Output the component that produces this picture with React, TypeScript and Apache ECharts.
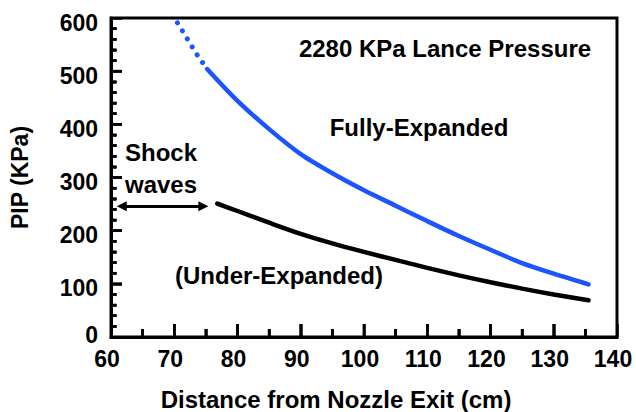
import React, { useEffect, useRef } from "react";
import * as echarts from "echarts";

// Fully-expanded PIP (blue): extrapolated dotted part, then measured solid part
const fullyDotted: [number, number][] = [
  [70.5, 591], [72.0, 562], [73.55, 532], [75.2, 504],
];
const fullyExpanded: [number, number][] = [
  [75.2, 504], [80, 444], [85, 391], [90, 344], [95, 308], [100, 276],
  [105, 247], [110, 218], [115, 190], [120, 164], [125, 139], [130, 119], [135.5, 99],
];
// Under-expanded PIP (black)
const underExpanded: [number, number][] = [
  [76.8, 251], [80, 237], [85, 215], [90, 194], [95, 176], [100, 160],
  [105, 145], [110, 130], [115, 116], [120, 103], [125, 91], [130, 80], [135.5, 69],
];
// Shock-wave region arrow (x range, y level)
const shockRange = [61.7, 74.6];
const shockLevel = 246;

const xTicks = { min: 60, max: 140, interval: 10 };
const yTicks = { min: 0, max: 600, interval: 100 };
// tick marks drawn inside the frame (major + minor)
const xTickValues = [65, 70, 75, 80, 85, 90, 95, 100, 105, 110, 115, 120, 125, 130, 135];
const yTickValues = [
  20, 40, 60, 80, 100, 120, 140, 160, 180, 200, 220, 240, 260, 280, 300,
  320, 340, 360, 380, 400, 420, 440, 460, 480, 500, 520, 540, 560, 580,
];

const FONT = "'Liberation Sans', Arial, Helvetica, sans-serif";
const BLUE = "#1c54ff";
const xTickLen = (v: number) => (v % xTicks.interval === 0 ? 13 : 8);
const yTickLen = (v: number) => (v % yTicks.interval === 0 ? 11 : 5.5);

export default function App() {
  const ref = useRef<HTMLDivElement>(null);
  useEffect(() => {
    if (!ref.current) return;
    const chart = echarts.init(ref.current, undefined, { renderer: "svg" });
    const txt = (text: string, x: number, y: number, align: string) => ({
      type: "text",
      x,
      y,
      silent: true,
      style: {
        text,
        fill: "#000",
        fontSize: 24,
        fontWeight: "bold",
        fontFamily: FONT,
        align,
        verticalAlign: "middle",
      },
    });
    const texts = [
      txt("2280 KPa Lance Pressure", 445, 48, "center"),
      txt("Fully-Expanded", 419, 127, "center"),
      txt("Shock", 125, 152, "left"),
      txt("waves", 125, 184, "left"),
      txt("(Under-Expanded)", 279, 275, "center"),
    ];
    chart.setOption({
      animation: false,
      backgroundColor: "#fff",
      grid: {
        left: 111,
        right: 19,
        top: 18,
        bottom: 75,
        show: true,
        borderColor: "#000",
        borderWidth: 3,
        containLabel: false,
        outerBoundsMode: "none",
      },
      xAxis: {
        type: "value",
        min: xTicks.min,
        max: xTicks.max,
        interval: xTicks.interval,
        name: "Distance from Nozzle Exit (cm)",
        nameLocation: "middle",
        nameGap: 50,
        nameTextStyle: {
          fontSize: 24,
          fontWeight: "bold",
          fontFamily: FONT,
          color: "#000",
          padding: [0, 56, 0, 0],
        },
        axisLine: { show: true, onZero: false, lineStyle: { color: "#000", width: 3 } },
        axisTick: { show: true, inside: true, length: 13, lineStyle: { color: "#000", width: 2.5 } },
        minorTick: { show: true, splitNumber: 2, length: 8, lineStyle: { color: "#000", width: 2.5 } },
        splitLine: { show: false },
        axisLabel: {
          margin: 10,
          fontSize: 23,
          fontWeight: "bold",
          fontFamily: FONT,
          color: "#000",
          padding: [0, 8, 0, 0],
        },
      },
      yAxis: {
        type: "value",
        min: yTicks.min,
        max: yTicks.max,
        interval: yTicks.interval,
        name: "PIP (KPa)",
        nameLocation: "middle",
        nameRotate: 90,
        nameGap: 80,
        nameTextStyle: {
          fontSize: 23,
          fontWeight: "bold",
          fontFamily: FONT,
          color: "#000",
        },
        axisLine: { show: true, onZero: false, lineStyle: { color: "#000", width: 3 } },
        axisTick: { show: true, inside: true, length: 11, lineStyle: { color: "#000", width: 2.5 } },
        minorTick: { show: true, splitNumber: 5, length: 5.5, lineStyle: { color: "#000", width: 2.5 } },
        splitLine: { show: false },
        axisLabel: {
          margin: 13,
          color: "#000",
          formatter: (v: number) => (v === 0 ? "{z|0}" : "{n|" + v + "}"),
          rich: {
            n: { fontSize: 23, fontWeight: "bold", fontFamily: FONT, color: "#000", padding: [9, 0, 0, 0] },
            z: { fontSize: 23, fontWeight: "bold", fontFamily: FONT, color: "#000", padding: [0, 0, 4, 0] },
          },
        },
      },
      series: [
        {
          type: "custom",
          z: 5,
          clip: false,
          data: xTickValues.map((v) => [v, yTicks.max / 2]),
          renderItem: (_p: any, api: any) => {
            const v = api.value(0);
            const pt = api.coord([v, yTicks.min]);
            const len = xTickLen(v);
            return {
              type: "rect",
              shape: { x: pt[0] - 1.25, y: pt[1] - len, width: 2.5, height: len },
              style: { fill: "#000" },
            };
          },
        },
        {
          type: "custom",
          z: 5,
          clip: false,
          data: yTickValues.map((v) => [(xTicks.min + xTicks.max) / 2, v]),
          renderItem: (_p: any, api: any) => {
            const v = api.value(1);
            const pt = api.coord([xTicks.min, v]);
            const len = yTickLen(v);
            return {
              type: "rect",
              shape: { x: pt[0], y: pt[1] - 1.25, width: len, height: 2.5 },
              style: { fill: "#000" },
            };
          },
        },
        {
          type: "line",
          data: fullyDotted,
          showSymbol: false,
          silent: true,
          lineStyle: { color: BLUE, width: 5, type: [0.01, 9.4], cap: "round" },
        },
        {
          type: "line",
          data: fullyExpanded,
          showSymbol: false,
          silent: true,
          smooth: 0.3,
          lineStyle: { color: BLUE, width: 4.5, cap: "round" },
        },
        {
          type: "line",
          data: underExpanded,
          showSymbol: false,
          silent: true,
          smooth: 0.3,
          lineStyle: { color: "#000", width: 4.5, cap: "round" },
        },
        {
          type: "line",
          data: [],
          silent: true,
          markLine: {
            silent: true,
            symbol: ["triangle", "triangle"],
            symbolSize: [10, 10],
            label: { show: false },
            emphasis: { disabled: true },
            lineStyle: { color: "#000", width: 3, type: "solid" },
            data: [[{ coord: [shockRange[0], shockLevel] }, { coord: [shockRange[1], shockLevel] }]],
          },
        },
      ],
      graphic: texts,
    });
    // tick marks placed through the axes' own scales
    const tickRects: any[] = [];
    xTickValues.forEach((v) => {
      const p = chart.convertToPixel({ gridIndex: 0 }, [v, yTicks.min]) as number[];
      const len = xTickLen(v);
      tickRects.push({
        type: "rect",
        silent: true,
        z: 20,
        shape: { x: p[0] - 1.25, y: p[1] - len, width: 2.5, height: len },
        style: { fill: "#000" },
      });
    });
    yTickValues.forEach((v) => {
      const p = chart.convertToPixel({ gridIndex: 0 }, [xTicks.min, v]) as number[];
      const len = yTickLen(v);
      tickRects.push({
        type: "rect",
        silent: true,
        z: 20,
        shape: { x: p[0], y: p[1] - 1.25, width: len, height: 2.5 },
        style: { fill: "#000" },
      });
    });
    chart.setOption({ graphic: [...texts, ...tickRects] });
    return () => chart.dispose();
  }, []);
  return (
    <div
      ref={ref}
      style={{ position: "fixed", left: 0, top: 0, width: 636, height: 412 }}
    />
  );
}
